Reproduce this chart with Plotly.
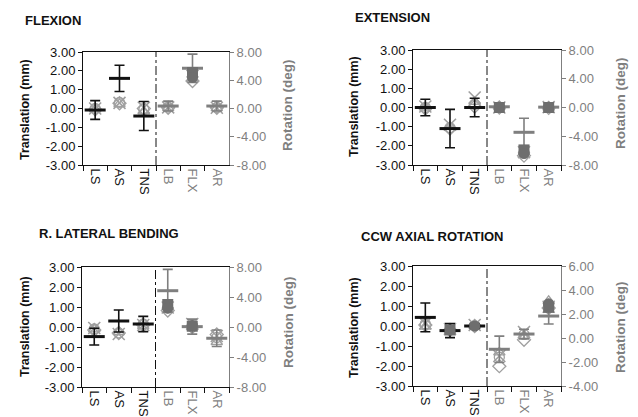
import plotly.graph_objects as go

# ---------------- data ----------------
categories = ["LS", "AS", "TNS", "LB", "FLX", "AR"]   # first 3 in mm, last 3 in deg
panel_titles = ["FLEXION", "EXTENSION", "R. LATERAL BENDING", "CCW AXIAL ROTATION"]

trans_tickvals = [3, 2, 1, 0, -1, -2, -3]
trans_ticktext = ["3.00", "2.00", "1.00", "0.00", "-1.00", "-2.00", "-3.00"]
rot8_tickvals = [8, 4, 0, -4, -8]
rot8_ticktext = ["8.00", "4.00", "0.00", "-4.00", "-8.00"]
rot6_tickvals = [6, 4, 2, 0, -2, -4]
rot6_ticktext = ["6.00", "4.00", "2.00", "0.00", "-2.00", "-4.00"]

# FLEXION
flex_mean = [-0.08, 1.60, -0.40, 0.35, 5.70, 0.35]
flex_sd = [0.50, 0.70, 0.77, 0.70, 2.00, 0.70]
flex_x = [0.00, 0.30, 0.05, 0.15, 4.60, 0.10]
flex_tri = [-0.05, 0.25, -0.15, 0.10, 4.80, 0.05]
flex_circ = [0.00, 0.32, -0.05, 0.20, 4.40, 0.15]
flex_dia = [-0.05, 0.28, 0.00, 0.10, 3.90, 0.10]
flex_fsq = [None, None, None, None, 5.10, None]
flex_fcirc = [None, None, None, None, 4.40, None]

# EXTENSION
ext_mean = [0.00, -1.10, 0.00, 0.10, -3.45, 0.05]
ext_sd = [0.43, 1.00, 0.48, 0.40, 1.95, 0.35]
ext_x = [0.05, -0.90, 0.52, 0.00, -6.20, 0.05]
ext_tri = [0.00, -1.00, 0.30, 0.10, -6.00, 0.00]
ext_circ = [0.00, -1.05, 0.15, 0.05, -6.30, 0.00]
ext_dia = [-0.05, -1.10, 0.05, 0.00, -6.70, -0.05]
ext_fsq = [None, None, None, 0.00, -5.90, 0.00]
ext_fcirc = [None, None, None, 0.05, -6.40, 0.05]

# R. LATERAL BENDING
lat_mean = [-0.48, 0.30, 0.15, 4.84, 0.05, -1.50]
lat_sd = [0.42, 0.55, 0.38, 2.85, 1.00, 1.10]
lat_x = [-0.05, -0.35, 0.10, 2.60, 0.40, -1.20]
lat_tri = [-0.12, -0.25, 0.05, 2.80, 0.10, -2.00]
lat_circ = [-0.10, -0.30, 0.15, 2.50, 0.20, -1.40]
lat_dia = [-0.15, -0.30, 0.10, 2.20, 0.00, -1.00]
lat_fsq = [None, None, None, 3.00, 0.10, None]
lat_fcirc = [None, None, None, 2.55, 0.20, None]

# CCW AXIAL ROTATION
ax_mean = [0.43, -0.23, 0.00, -0.94, 0.33, 1.83]
ax_sd = [0.72, 0.35, 0.12, 1.10, 0.40, 0.66]
ax_x = [0.13, -0.15, 0.05, -1.50, 0.50, 2.60]
ax_tri = [-0.03, -0.25, 0.00, -1.20, 0.20, 3.10]
ax_circ = [0.10, -0.20, 0.02, -1.60, 0.30, 2.80]
ax_dia = [0.05, -0.20, 0.00, -2.35, -0.15, 2.50]
ax_fsq = [None, -0.20, None, None, None, 2.55]
ax_fcirc = [None, None, 0.00, None, None, 2.85]

# ---------------- styling ----------------
W, H = 638, 417
FONT = "Liberation Sans, Arial, sans-serif"
BLACK = "#111111"
GRAY = "#7f7f7f"
PT_GRAY = "#a0a0a0"
FILL_GRAY = "#6e6e6e"


def px_x(p):
    return p / W


def px_y(p):
    return 1 - p / H


panels = [
    dict(mean=flex_mean, sd=flex_sd, x=flex_x, tri=flex_tri, circ=flex_circ, dia=flex_dia,
         fsq=flex_fsq, fcirc=flex_fcirc, rrange=[-8, 8], rtv=rot8_tickvals, rtt=rot8_ticktext,
         dom=(83, 229, 52, 165), title=(23, 20), ltitle=(25, 110), rtitle=(288, 106)),
    dict(mean=ext_mean, sd=ext_sd, x=ext_x, tri=ext_tri, circ=ext_circ, dia=ext_dia,
         fsq=ext_fsq, fcirc=ext_fcirc, rrange=[-8, 8], rtv=rot8_tickvals, rtt=rot8_ticktext,
         dom=(413, 561, 50, 165), title=(353, 18), ltitle=(354, 107), rtitle=(620, 104)),
    dict(mean=lat_mean, sd=lat_sd, x=lat_x, tri=lat_tri, circ=lat_circ, dia=lat_dia,
         fsq=lat_fsq, fcirc=lat_fcirc, rrange=[-8, 8], rtv=rot8_tickvals, rtt=rot8_ticktext,
         dom=(82, 229, 267, 387), title=(37, 234), ltitle=(25, 327), rtitle=(288, 323)),
    dict(mean=ax_mean, sd=ax_sd, x=ax_x, tri=ax_tri, circ=ax_circ, dia=ax_dia,
         fsq=ax_fsq, fcirc=ax_fcirc, rrange=[-4, 6], rtv=rot6_tickvals, rtt=rot6_ticktext,
         dom=(413, 561, 266, 386), title=(359, 236), ltitle=(354, 328), rtitle=(620, 328)),
]

fig = go.Figure()
layout = dict(
    width=W, height=H, autosize=False,
    margin=dict(l=0, r=0, t=0, b=0, pad=0),
    paper_bgcolor="white", plot_bgcolor="white",
    showlegend=False,
    font=dict(family=FONT, size=13, color=BLACK),
)
annotations = []
shapes = []

ticktext_x = [c if i < 3 else f'<span style="color:{GRAY}">{c}</span>' for i, c in enumerate(categories)]

open_series = [
    ("x", "x-thin-open", 12, 1.6),
    ("tri", "triangle-up-open", 10, 1.3),
    ("circ", "circle-open", 10, 1.3),
    ("dia", "diamond-open", 10, 1.3),
]
filled_series = [
    ("fsq", "square", 11),
    ("fcirc", "circle", 11),
]

for i, p in enumerate(panels, start=1):
    xid = "x" if i == 1 else f"x{i}"
    yl = 2 * i - 1
    yr = 2 * i
    ylid = "y" if yl == 1 else f"y{yl}"
    yrid = f"y{yr}"
    x0, x1, y0, y1 = p["dom"]

    groups = [
        (categories[:3], slice(0, 3), ylid, BLACK),
        (categories[3:], slice(3, 6), yrid, GRAY),
    ]

    for key, sym, size, lw in open_series:
        for cats, sl, yid, col in groups:
            fig.add_trace(go.Scatter(
                x=cats, y=p[key][sl], xaxis=xid, yaxis=yid, mode="markers",
                marker=dict(symbol=sym, size=size, color=PT_GRAY, line=dict(width=lw, color=PT_GRAY)),
                hoverinfo="skip"))
    for cats, sl, yid, col in groups:
        fig.add_trace(go.Scatter(
            x=cats, y=p["mean"][sl], xaxis=xid, yaxis=yid, mode="markers",
            marker=dict(symbol="line-ew", size=15, line=dict(width=3, color=col)),
            error_y=dict(type="data", array=p["sd"][sl], visible=True, color=col, thickness=1.6, width=5),
            hoverinfo="skip"))
    for key, sym, size in filled_series:
        for cats, sl, yid, col in groups:
            fig.add_trace(go.Scatter(
                x=cats, y=p[key][sl], xaxis=xid, yaxis=yid, mode="markers",
                marker=dict(symbol=sym, size=size, color=FILL_GRAY, line=dict(width=0)),
                hoverinfo="skip"))

    xdom = [px_x(x0), px_x(x1)]
    ydom = [px_y(y1), px_y(y0)]

    layout["xaxis" if i == 1 else f"xaxis{i}"] = dict(
        domain=xdom, anchor=ylid, type="category", categoryorder="array", categoryarray=categories,
        range=[-0.5, 5.5], tickmode="array", tickvals=categories, ticktext=ticktext_x,
        tickangle=90, tickson="boundaries", ticks="outside", ticklen=5, tickcolor=BLACK,
        showline=True, linecolor=BLACK, linewidth=1, mirror=True, showgrid=False, zeroline=False,
        tickfont=dict(family=FONT, size=13, color=BLACK), fixedrange=True, automargin=False,
    )
    layout["yaxis" if yl == 1 else f"yaxis{yl}"] = dict(
        domain=ydom, anchor=xid, range=[-3, 3], tickmode="array",
        tickvals=trans_tickvals, ticktext=trans_ticktext, ticks="outside", ticklen=4, tickcolor=BLACK,
        showline=True, linecolor=BLACK, linewidth=1, showgrid=False, zeroline=False,
        tickfont=dict(family=FONT, size=13, color=BLACK), fixedrange=True, automargin=False,
    )
    layout[f"yaxis{yr}"] = dict(
        domain=ydom, anchor=xid, overlaying=ylid, side="right", range=p["rrange"], tickmode="array",
        tickvals=p["rtv"], ticktext=p["rtt"], ticks="outside", ticklen=4, tickcolor=GRAY,
        showline=True, linecolor=GRAY, linewidth=1, showgrid=False, zeroline=False,
        tickfont=dict(family=FONT, size=13, color=GRAY), fixedrange=True, automargin=False,
    )

    shapes.append(dict(type="line", xref=xid, yref=f"{ylid} domain", x0=2.5, x1=2.5, y0=0, y1=1,
                       line=dict(color="#111111", width=1, dash="dashdot")))

    tx, ty = p["title"]
    annotations.append(dict(text=f"<b>{panel_titles[i-1]}</b>", xref="paper", yref="paper",
                            x=px_x(tx), y=px_y(ty), xanchor="left", yanchor="middle", showarrow=False,
                            font=dict(family=FONT, size=13, color=BLACK)))
    lx, ly = p["ltitle"]
    annotations.append(dict(text="<b>Translation (mm)</b>", xref="paper", yref="paper",
                            x=px_x(lx), y=px_y(ly), xanchor="center", yanchor="middle", textangle=-90,
                            showarrow=False, font=dict(family=FONT, size=12.5, color=BLACK)))
    rx, ry = p["rtitle"]
    annotations.append(dict(text="<b>Rotation (deg)</b>", xref="paper", yref="paper",
                            x=px_x(rx), y=px_y(ry), xanchor="center", yanchor="middle", textangle=-90,
                            showarrow=False, font=dict(family=FONT, size=13.5, color=GRAY)))

layout["annotations"] = annotations
layout["shapes"] = shapes
fig.update_layout(**layout)
fig.write_html("out.html", config={"displayModeBar": False},
               post_script="document.body.style.margin='0';document.body.style.padding='0';")
